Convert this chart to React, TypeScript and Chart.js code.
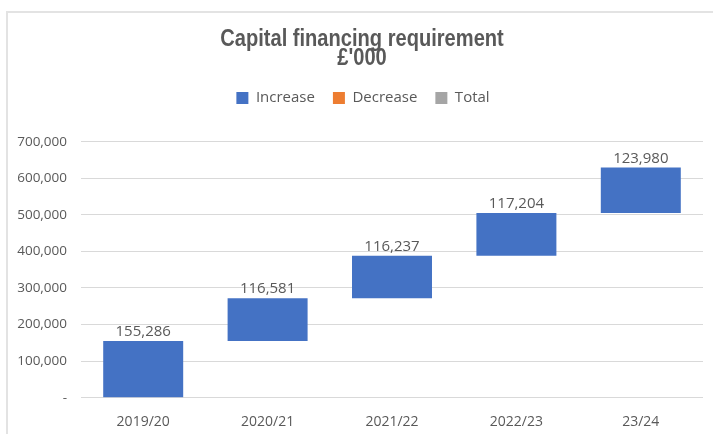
import React, { useEffect, useRef } from "react";
import { Chart, registerables } from "chart.js";

Chart.register(...registerables);

const categories = ["2019/20", "2020/21", "2021/22", "2022/23", "23/24"];
const increases = [155286, 116581, 116237, 117204, 123980];
const decreases: number[] = [];
const totals: number[] = [];
const chartTitle = ["Capital financing requirement", "£'000"];
const seriesNames = ["Increase", "Decrease", "Total"];
const yMax = 700000;
const yStep = 100000;

const fmt = (v: number) => v.toLocaleString("en-US");

export default function App() {
  const ref = useRef<HTMLCanvasElement | null>(null);

  useEffect(() => {
    document.body.style.margin = "0";
    const canvas = ref.current;
    if (!canvas) return;

    // floating bars for waterfall: [start, end]
    const ranges: [number, number][] = [];
    let run = 0;
    increases.forEach((v) => {
      ranges.push([run, run + v]);
      run += v;
    });

    const labelPlugin = {
      id: "valueLabels",
      afterDatasetsDraw(chart: any) {
        const ctx = chart.ctx;
        const meta = chart.getDatasetMeta(0);
        ctx.save();
        ctx.font = '15px "Open Sans", sans-serif';
        ctx.fillStyle = "#595959";
        ctx.textAlign = "center";
        ctx.textBaseline = "alphabetic";
        meta.data.forEach((el: any, i: number) => {
          const top = Math.min(el.y, el.base);
          ctx.fillText(fmt(increases[i]), el.x, top - 5);
        });
        ctx.restore();
      },
    };

    // condensed bold title (no narrow font installed, so compress horizontally)
    const titlePlugin = {
      id: "narrowTitle",
      afterLayout(chart: any) {
        // centre the legend on the title rather than on the full canvas
        if (chart.legend) {
          chart.legend.left += 11.5;
          chart.legend.right += 11.5;
        }
      },
      afterDraw(chart: any) {
        const ctx = chart.ctx;
        ctx.save();
        ctx.font = 'bold 24.5px "Liberation Sans", Arial, sans-serif';
        ctx.fillStyle = "#595959";
        ctx.textAlign = "center";
        ctx.textBaseline = "alphabetic";
        const baselines = [45.5, 65];
        chartTitle.forEach((line, i) => {
          ctx.save();
          ctx.translate(362, baselines[i]);
          ctx.scale(0.82, 1);
          ctx.fillText(line, 0, 0);
          ctx.restore();
        });
        ctx.restore();
      },
    };

    const chart = new Chart(canvas, {
      type: "bar",
      data: {
        labels: categories,
        datasets: [
          {
            label: seriesNames[0],
            data: ranges as any,
            backgroundColor: "#4472C4",
            borderWidth: 0,
            grouped: false,
            categoryPercentage: 1,
            barPercentage: 0.643,
          },
          {
            label: seriesNames[1],
            data: decreases as any,
            backgroundColor: "#ED7D31",
            grouped: false,
          },
          {
            label: seriesNames[2],
            data: totals as any,
            backgroundColor: "#A5A5A5",
            grouped: false,
          },
        ],
      },
      options: {
        animation: false,
        responsive: false,
        maintainAspectRatio: false,
        layout: { padding: { top: 72.5, left: 0, right: 10, bottom: 0 } },
        plugins: {
          title: { display: false },
          subtitle: {
            display: true,
            text: "",
            weight: 500,
            font: { size: 10, lineHeight: 1 },
            padding: { top: 16.2, bottom: 0 },
          } as any,
          legend: {
            display: true,
            position: "top",
            labels: {
              color: "#595959",
              font: { family: '"Open Sans", sans-serif', size: 15 },
              boxWidth: 12,
              boxHeight: 12,
              padding: 18,
            },
          },
          tooltip: { enabled: false },
        },
        scales: {
          x: {
            grid: { display: false, drawTicks: false },
            border: { display: false },
            ticks: {
              color: "#595959",
              font: { family: '"Open Sans", sans-serif', size: 14 },
              padding: 15.5,
              maxRotation: 0,
            },
            afterFit(scale: any) {
              scale.height = 36.3;
            },
          },
          y: {
            min: 0,
            max: yMax,
            grid: { color: "#d9d9d9", drawTicks: false },
            border: { display: false },
            ticks: {
              stepSize: yStep,
              color: "#595959",
              font: { family: '"Open Sans", sans-serif', size: 13.5 },
              padding: 14,
              callback: (v: any) => (Number(v) === 0 ? "-" : fmt(Number(v))),
            },
            afterFit(scale: any) {
              scale.width = 81;
            },
          },
        },
      },
      plugins: [labelPlugin, titlePlugin],
    });

    return () => chart.destroy();
  }, []);

  return (
    <div style={{ position: "relative", width: 713, height: 434, background: "#fff" }}>
      <div
        style={{
          position: "absolute",
          left: 6,
          top: 11,
          right: -5,
          bottom: -5,
          borderLeft: "2px solid #e3e3e3",
          borderTop: "2px solid #e3e3e3",
          pointerEvents: "none",
        }}
      />
      <canvas ref={ref} width={713} height={434} style={{ position: "absolute", left: 0, top: 0, display: "block" }} />
    </div>
  );
}
